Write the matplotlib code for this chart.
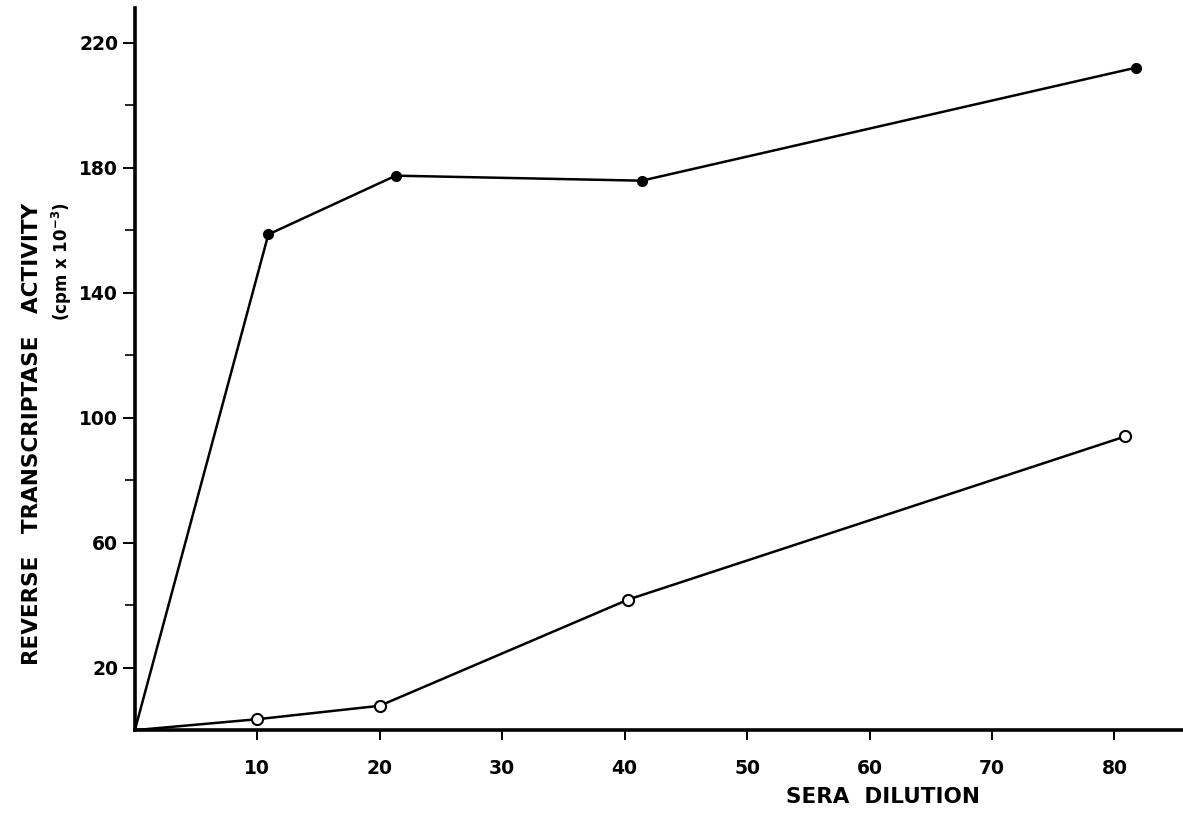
import matplotlib.pyplot as plt

plt.rcParams["font.family"] = "DejaVu Sans"
plt.rcParams["font.weight"] = "bold"

# Reverse transcriptase activity vs. sera dilution
dilution_filled = [0, 10.9, 21.3, 41.4, 81.8]
activity_filled = [0, 158.6, 177.4, 175.8, 212]

dilution_open = [0, 10, 20, 40.3, 80.9]
activity_open = [0, 3.5, 7.8, 41.8, 94]

x_ticks = [10, 20, 30, 40, 50, 60, 70, 80]
y_major = [20, 60, 100, 140, 180, 220]
y_minor = [40, 80, 120, 160, 200]

fig = plt.figure(figsize=(11.83, 8.14), dpi=100)
ax = fig.add_axes([0.114, 0.103, 0.886, 0.887])

# both curves start at the origin, which carries no marker
ax.plot(dilution_filled, activity_filled, "k-", lw=1.8, marker="o",
        markersize=7, markerfacecolor="black", markevery=slice(1, None),
        clip_on=False, zorder=3)
ax.plot(dilution_open, activity_open, "k-", lw=1.8, marker="o",
        markersize=8, markerfacecolor="white", markeredgewidth=1.5,
        markevery=slice(1, None), clip_on=False, zorder=3)

ax.set_xlim(0, 85.6)
ax.set_ylim(0, 231)

ax.spines["top"].set_visible(False)
ax.spines["right"].set_visible(False)
ax.spines["left"].set_linewidth(2.6)
ax.spines["bottom"].set_linewidth(2.6)

ax.set_xticks(x_ticks)
ax.set_xticklabels([str(v) for v in x_ticks])
ax.set_yticks(y_major)
ax.set_yticklabels([str(v) for v in y_major])
ax.set_yticks(y_minor, minor=True)

ax.tick_params(axis="x", direction="out", length=7, width=1.4, pad=14,
               labelsize=13.5)
ax.tick_params(axis="y", which="major", direction="out", length=9, width=1.4,
               pad=3, labelsize=13.5)
ax.tick_params(axis="y", which="minor", direction="out", length=7, width=1.2)

fig.text(0.746, 0.021, "SERA  DILUTION", fontsize=15.5, fontweight="bold",
         ha="center", va="center")
fig.text(0.027, 0.467, "REVERSE   TRANSCRIPTASE   ACTIVITY", fontsize=15.5,
         fontweight="bold", rotation=90, ha="center", va="center")
fig.text(0.052, 0.752, r"(cpm x 10$^{\mathbf{-3}}$)", fontsize=12,
         fontweight="bold", rotation=90, ha="center", va="top")

fig.savefig("out.png", dpi=100)
